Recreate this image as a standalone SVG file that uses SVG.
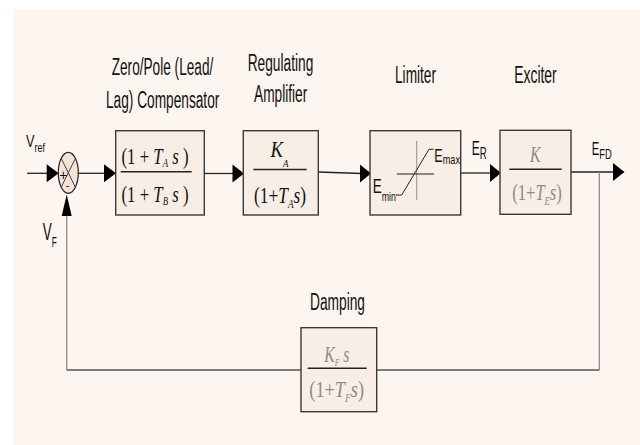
<svg xmlns="http://www.w3.org/2000/svg" width="640" height="445" viewBox="0 0 640 445">
<style>
.lbl{font-family:"Liberation Sans",Arial,sans-serif;font-size:23px;fill:#111}
.sub{font-family:"Liberation Sans",Arial,sans-serif;fill:#111}
.m{font-family:"Liberation Serif","Times New Roman",serif;font-size:23px;fill:#111}
.mg{font-family:"Liberation Serif","Times New Roman",serif;font-size:23px;fill:#8a8a8a}
.i{font-style:italic}
.box{fill:#f9eee6;stroke:#3a3a3a;stroke-width:1.4}
.fl{stroke:#222;stroke-width:1.4}
.w{stroke:#222;stroke-width:1.3;fill:none}
.g{stroke:#8c8c8c;stroke-width:1.3;fill:none}
.ah{fill:#000}
</style>
<rect x="0" y="0" width="640" height="445" fill="#ffffff"/>
<rect x="13" y="10" width="627" height="435" fill="#fdf5ef"/>

<g id="labels">
<text class="lbl" x="111.7" y="74.5" textLength="101.6" lengthAdjust="spacingAndGlyphs">Zero/Pole (Lead/</text>
<text class="lbl" x="106" y="107.5" textLength="113.3" lengthAdjust="spacingAndGlyphs">Lag) Compensator</text>
<text class="lbl" x="247.7" y="71" textLength="65.6" lengthAdjust="spacingAndGlyphs">Regulating</text>
<text class="lbl" x="254" y="101.5" textLength="53.3" lengthAdjust="spacingAndGlyphs">Amplifier</text>
<text class="lbl" x="395" y="83.3" textLength="41" lengthAdjust="spacingAndGlyphs">Limiter</text>
<text class="lbl" x="514.3" y="83.3" textLength="42.4" lengthAdjust="spacingAndGlyphs">Exciter</text>
<text class="lbl" x="310" y="310" textLength="55" lengthAdjust="spacingAndGlyphs">Damping</text>
<text class="sub" x="26" y="146.7" textLength="19" lengthAdjust="spacingAndGlyphs"><tspan font-size="17">V</tspan><tspan font-size="12" dy="5">ref</tspan></text>
<text class="sub" x="42.7" y="240" textLength="14" lengthAdjust="spacingAndGlyphs"><tspan font-size="23">V</tspan><tspan font-size="14" dy="6.7">F</tspan></text>
<text class="sub" x="471.7" y="155" textLength="15" lengthAdjust="spacingAndGlyphs"><tspan font-size="20">E</tspan><tspan font-size="16" dy="4">R</tspan></text>
<text class="sub" x="591.7" y="155" textLength="20" lengthAdjust="spacingAndGlyphs"><tspan font-size="18">E</tspan><tspan font-size="15" dy="4">FD</tspan></text>
</g>

<g id="connectors">
<line class="w" x1="27" y1="173.3" x2="48" y2="173.3"/>
<polygon class="ah" points="46.7,164.3 58.6,173.3 46.7,182.3"/>
<line class="w" x1="78.3" y1="173.3" x2="105" y2="173.3"/>
<polygon class="ah" points="104,164.3 116,173.3 104,182.3"/>
<line class="w" x1="204.3" y1="173.5" x2="234" y2="173.5"/>
<polygon class="ah" points="232.5,164.5 244,173.5 232.5,182.5"/>
<line class="w" x1="318.3" y1="172" x2="362" y2="173.5"/>
<polygon class="ah" points="360,164.5 371,173.5 360,182.5"/>
<line class="w" x1="460.7" y1="173" x2="491" y2="173"/>
<polygon class="ah" points="490,164 501,173 490,182"/>
<line class="w" x1="571" y1="172" x2="614" y2="172"/>
<polygon class="ah" points="613,163 624.5,172 613,181"/>
<polyline class="g" points="599.3,172 599.3,370"/>
<line stroke="#555" stroke-width="1.3" x1="599.3" y1="370" x2="376.7" y2="370"/>
<line stroke="#555" stroke-width="1.3" x1="301" y1="370" x2="66.7" y2="370"/>
<line class="g" x1="66.7" y1="370" x2="66.7" y2="214"/>
<polygon class="ah" points="61.7,216 66.7,194.5 71.7,216"/>
</g>

<g id="sum">
<ellipse cx="68.3" cy="172.8" rx="10" ry="20.5" fill="#f6e3d8" stroke="#222" stroke-width="1.2"/>
<line stroke="#444" stroke-width="1" x1="61.2" y1="158.3" x2="75.4" y2="187.3"/>
<line stroke="#444" stroke-width="1" x1="75.4" y1="158.3" x2="61.2" y2="187.3"/>
<text class="sub" x="63.3" y="179.5" font-size="14" text-anchor="middle">+</text>
<text class="sub" x="67.5" y="189" font-size="11" text-anchor="middle">-</text>
</g>

<g id="compensator">
<rect class="box" x="115.7" y="130.7" width="88.6" height="84.3"/>
<text class="m" x="121.5" y="163.5" textLength="67" lengthAdjust="spacingAndGlyphs">(1 + <tspan class="i">T</tspan><tspan class="i" font-size="12" dy="3">A</tspan><tspan class="i" dy="-3"> s</tspan> )</text>
<line class="fl" x1="120.7" y1="171.7" x2="191.7" y2="171.7"/>
<text class="m" x="121.5" y="201.7" textLength="67" lengthAdjust="spacingAndGlyphs">(1 + <tspan class="i">T</tspan><tspan class="i" font-size="12" dy="3">B</tspan><tspan class="i" dy="-3"> s</tspan> )</text>
</g>

<g id="amplifier">
<rect class="box" x="243.3" y="130.7" width="75" height="84.3"/>
<text class="m i" x="270.5" y="156.7" textLength="18" lengthAdjust="spacingAndGlyphs">K<tspan font-size="11" dy="10">A</tspan></text>
<line class="fl" x1="253.3" y1="169.5" x2="306.7" y2="169.5"/>
<text class="m" x="254" y="203.3" font-size="25" textLength="52" lengthAdjust="spacingAndGlyphs">(1+<tspan class="i">T</tspan><tspan class="i" font-size="12" dy="5">A</tspan><tspan class="i" dy="-5">s</tspan>)</text>
</g>

<g id="limiter">
<rect class="box" x="370" y="130.7" width="90.7" height="84.3"/>
<line stroke="#999" stroke-width="1.1" x1="416.7" y1="141" x2="416.7" y2="200"/>
<line stroke="#222" stroke-width="1.2" x1="396.7" y1="174" x2="434" y2="174"/>
<polyline fill="none" stroke="#222" stroke-width="1" points="396,195 401.7,195 429,149.3 433.5,149.3"/>
<text class="sub" x="434.3" y="161.7" textLength="25.7" lengthAdjust="spacingAndGlyphs"><tspan font-size="18">E</tspan><tspan font-size="13" dy="2.3">max</tspan></text>
<text class="sub" x="372.7" y="193.3" textLength="23.3" lengthAdjust="spacingAndGlyphs"><tspan font-size="20">E</tspan><tspan font-size="13" dy="7.7">min</tspan></text>
</g>

<g id="exciter">
<rect class="box" x="500" y="130.3" width="71" height="84"/>
<text class="mg i" x="530" y="161.7" textLength="10.5" lengthAdjust="spacingAndGlyphs">K</text>
<line class="fl" x1="509.3" y1="169.3" x2="561.7" y2="169.3"/>
<text class="mg" x="512.3" y="200" font-size="25" textLength="49.5" lengthAdjust="spacingAndGlyphs">(1+<tspan class="i">T</tspan><tspan class="i" font-size="12" dy="5">E</tspan><tspan class="i" dy="-5">s</tspan>)</text>
</g>

<g id="damping">
<rect class="box" x="301" y="327.7" width="75.7" height="84"/>
<text class="mg i" x="324.3" y="361.7" textLength="25" lengthAdjust="spacingAndGlyphs">K<tspan font-size="11" dy="4.3">F</tspan><tspan dy="-4.3"> s</tspan></text>
<line class="fl" x1="307.7" y1="368.3" x2="366.7" y2="368.3"/>
<text class="mg" x="309.3" y="396.7" font-size="25" textLength="54.7" lengthAdjust="spacingAndGlyphs">(1+<tspan class="i">T</tspan><tspan class="i" font-size="12" dy="5">F</tspan><tspan class="i" dy="-5">s</tspan>)</text>
</g>
</svg>
